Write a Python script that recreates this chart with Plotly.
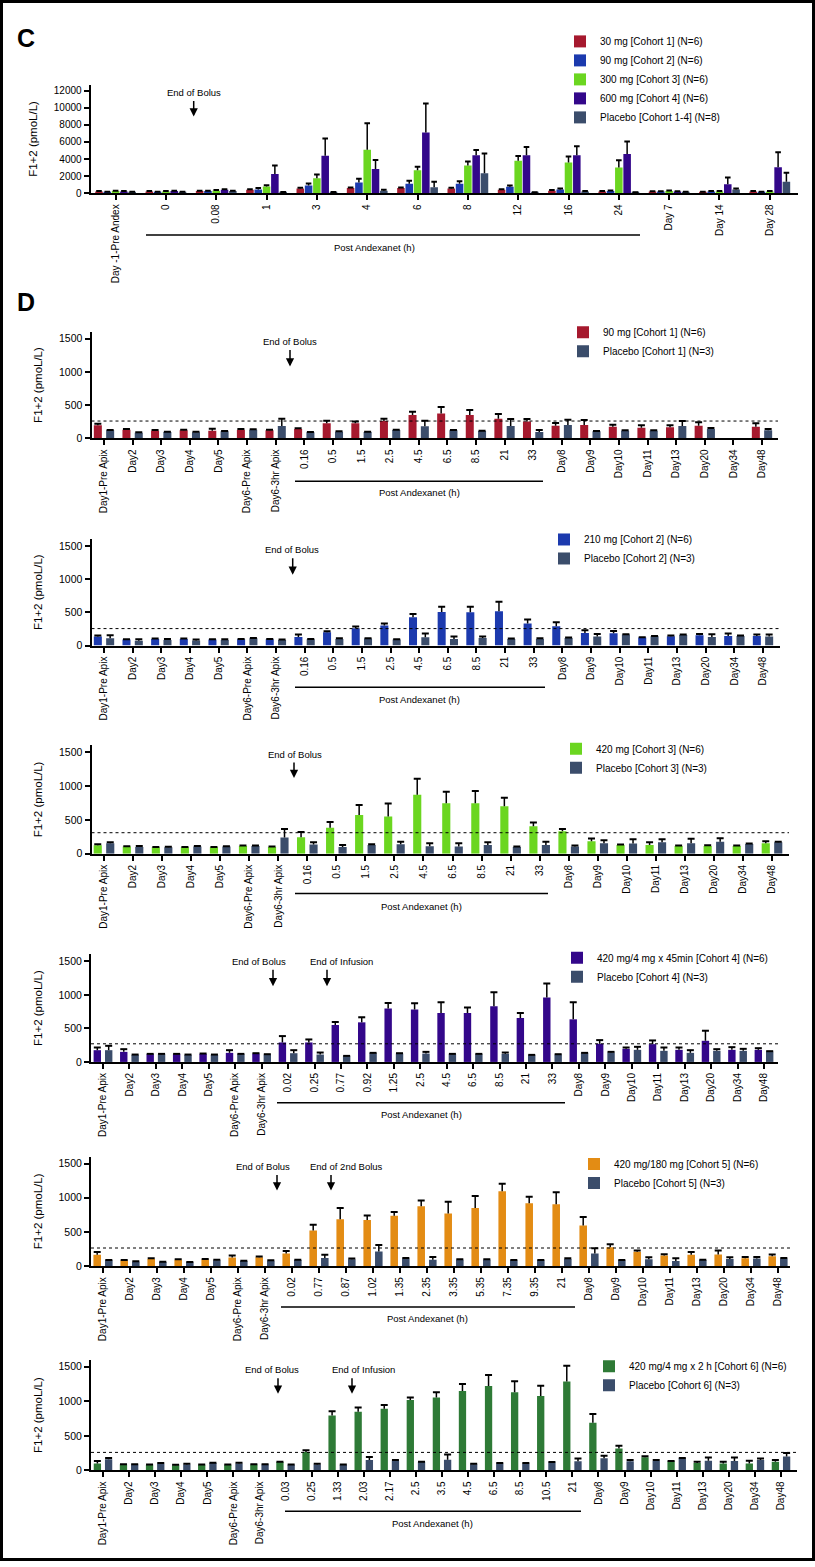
import plotly.graph_objects as go

# ---------------- DATA ----------------
# Panel C
c_cats = ["Day -1-Pre Andex", "0", "0.08", "1", "3", "4", "6", "8", "12", "16", "24", "Day 7", "Day 14", "Day 28"]
c_30mg = [200, 200, 250, 400, 550, 600, 600, 550, 400, 300, 200, 200, 150, 200]
c_30mg_err = [60, 50, 50, 60, 80, 80, 80, 100, 80, 80, 50, 40, 40, 50]
c_90mg = [150, 150, 250, 450, 900, 1250, 1100, 1100, 750, 450, 250, 200, 200, 150]
c_90mg_err = [40, 40, 50, 150, 250, 450, 350, 300, 150, 100, 60, 40, 50, 40]
c_300mg = [250, 200, 300, 800, 1750, 5100, 2700, 3250, 3800, 3600, 3000, 250, 200, 200]
c_300mg_err = [50, 50, 80, 150, 450, 3100, 400, 450, 550, 700, 850, 60, 50, 50]
c_600mg = [200, 250, 400, 2250, 4400, 2850, 7100, 4450, 4450, 4450, 4600, 200, 1050, 3050]
c_600mg_err = [50, 50, 80, 1000, 2000, 1050, 3400, 600, 950, 1050, 1450, 40, 800, 1750]
c_placebo = [150, 150, 250, 100, 100, 300, 700, 2350, 100, 200, 100, 150, 450, 1350]
c_placebo_err = [40, 40, 50, 40, 40, 100, 650, 2300, 30, 50, 30, 40, 100, 1050]

pre_cats = ["Day1-Pre Apix", "Day2", "Day3", "Day4", "Day5", "Day6-Pre Apix", "Day6-3hr Apix"]
post_days = ["Day8", "Day9", "Day10", "Day11", "Day13", "Day20", "Day34", "Day48"]

# post-andexanet sampling times (h)
d123_times = ["0.16", "0.5", "1.5", "2.5", "4.5", "6.5", "8.5", "21", "33"]
d4_times = ["0.02", "0.25", "0.77", "0.92", "1.25", "2.5", "4.5", "6.5", "8.5", "21", "33"]
d5_times = ["0.02", "0.77", "0.87", "1.02", "1.35", "2.35", "3.35", "5.35", "7.35", "9.35", "21"]
d6_times = ["0.03", "0.25", "1.33", "2.03", "2.17", "2.5", "3.5", "4.5", "6.5", "8.5", "10.5", "21"]

d1_active = [195, 130, 115, 120, 115, 130, 120, 140, 225, 225, 260, 350, 375, 350, 295, 255, 190, 200, 175, 160, 165, 190, None, 175]
d1_active_err = [25, 10, 10, 10, 30, 10, 10, 10, 40, 30, 35, 50, 95, 75, 70, 35, 40, 75, 30, 35, 30, 50, None, 50]
d1_placebo = [120, 85, 95, 90, 105, 130, 185, 90, 100, 95, 125, 180, 120, 110, 185, 95, 200, 105, 115, 115, 185, 140, None, 120]
d1_placebo_err = [5, 5, 5, 10, 5, 5, 110, 5, 5, 5, 5, 85, 5, 5, 105, 30, 80, 5, 5, 5, 75, 15, None, 20]

d2_active = [135, 90, 100, 100, 90, 95, 95, 130, 200, 260, 300, 425, 505, 500, 515, 330, 290, 190, 185, 120, 140, 155, 145, 145]
d2_active_err = [15, 5, 5, 5, 5, 5, 5, 35, 15, 25, 30, 50, 80, 85, 145, 60, 60, 40, 35, 5, 10, 20, 35, 20]
d2_placebo = [110, 70, 85, 75, 85, 110, 85, 95, 100, 105, 90, 125, 100, 115, 100, 100, 115, 135, 165, 140, 160, 130, 145, 135]
d2_placebo_err = [45, 25, 15, 15, 10, 5, 5, 5, 10, 5, 5, 55, 35, 20, 5, 10, 5, 40, 5, 5, 5, 40, 5, 30]

d3_active = [125, 105, 95, 95, 95, 115, 100, 245, 385, 570, 550, 870, 745, 745, 700, 405, 330, 185, 130, 130, 115, 115, 115, 155]
d3_active_err = [15, 5, 5, 5, 5, 5, 5, 75, 85, 150, 190, 235, 170, 180, 125, 55, 35, 40, 5, 40, 5, 10, 5, 30]
d3_placebo = [155, 100, 95, 105, 105, 115, 240, 135, 100, 130, 140, 110, 105, 130, 100, 130, 105, 155, 150, 170, 155, 175, 145, 170]
d3_placebo_err = [15, 15, 8, 10, 5, 5, 125, 35, 30, 10, 35, 45, 50, 40, 5, 45, 15, 45, 65, 45, 65, 55, 5, 5]

d4_active = [175, 150, 115, 115, 120, 135, 125, 290, 290, 550, 590, 795, 780, 730, 730, 830, 655, 960, 635, 270, 195, 265, 180, 315, 180, 180]
d4_active_err = [40, 40, 5, 5, 5, 40, 5, 95, 45, 45, 75, 85, 95, 160, 80, 210, 75, 210, 255, 55, 20, 55, 35, 150, 40, 25]
d4_placebo = [175, 105, 115, 105, 105, 115, 110, 130, 110, 85, 130, 125, 125, 115, 115, 120, 100, 110, 130, 140, 180, 165, 135, 165, 165, 155]
d4_placebo_err = [65, 5, 5, 5, 5, 5, 5, 45, 30, 5, 5, 5, 25, 5, 5, 20, 5, 5, 5, 10, 45, 50, 40, 25, 30, 5]

d5_active = [165, 85, 105, 95, 100, 125, 130, 185, 520, 685, 675, 735, 875, 770, 850, 1095, 920, 905, 595, 275, 210, 155, 165, 170, 115, 145]
d5_active_err = [40, 5, 10, 5, 5, 30, 10, 35, 85, 165, 65, 55, 85, 170, 175, 110, 95, 175, 125, 45, 20, 20, 40, 60, 20, 25]
d5_placebo = [85, 65, 60, 55, 85, 75, 80, 90, 120, 100, 215, 110, 95, 95, 95, 85, 85, 105, 185, 85, 100, 75, 90, 105, 110, 110]
d5_placebo_err = [5, 5, 5, 5, 10, 5, 5, 5, 45, 10, 95, 10, 40, 5, 5, 5, 5, 10, 75, 5, 30, 40, 5, 25, 25, 10]

d6_active = [100, 85, 80, 75, 80, 80, 85, 120, 265, 795, 850, 890, 1020, 1055, 1150, 1220, 1130, 1075, 1285, 690, 315, 190, 130, 105, 100, 100, 125]
d6_active_err = [35, 5, 5, 5, 5, 5, 5, 5, 25, 60, 60, 55, 35, 75, 100, 160, 160, 150, 230, 125, 40, 15, 5, 20, 25, 40, 25]
d6_placebo = [160, 85, 95, 85, 105, 100, 85, 80, 85, 80, 150, 140, 120, 155, 90, 100, 100, 115, 130, 175, 130, 135, 175, 140, 135, 150, 200]
d6_placebo_err = [20, 5, 10, 10, 5, 10, 5, 5, 10, 5, 45, 10, 5, 75, 5, 5, 5, 5, 40, 35, 20, 15, 5, 45, 50, 20, 50]

ref_limits = [260, 255, 310, 270, 265, 260]  # dotted reference lines (pmol/L)

# ---------------- STYLE / LAYOUT ----------------
W, H = 815, 1567
SANS = "Liberation Sans, Arial, sans-serif"
RED = "#a6192e"
BLUE = "#1c3aae"
LIME = "#6bd620"
PURPLE = "#33078a"
SLATE = "#3b4d6b"
ORANGE = "#e38c14"
DKGREEN = "#2e7a36"


def fx(px):
    return px / W


def fy(py):
    return 1 - py / H


fig = go.Figure()

# geometry: (axis start px, axis end px, first tick px, last tick px, baseline px, ref tick px, ref tick value, top px)
panels = [
    dict(cats=c_cats, geo=(90.6, 798, 115.6, 769.8, 194, 91, 12000, 85), yt=list(range(0, 12001, 2000))),
    dict(cats=pre_cats + d123_times + post_days, geo=(91.5, 778, 104, 762, 440, 340, 1500, 333)),
    dict(cats=pre_cats + d123_times + post_days, geo=(91.5, 780, 104, 763, 648, 548, 1500, 541)),
    dict(cats=pre_cats + d123_times + post_days, geo=(91.5, 789, 104, 772, 857, 755, 1500, 748)),
    dict(cats=pre_cats + d4_times + post_days, geo=(91.0, 778, 103, 764, 1066, 965, 1500, 958)),
    dict(cats=pre_cats + d5_times + post_days, geo=(91.0, 790, 103, 778, 1271, 1168, 1500, 1161)),
    dict(cats=pre_cats + d6_times + post_days, geo=(91.0, 797, 103, 781, 1476, 1372, 1500, 1365)),
]

series = [
    [("30 mg [Cohort 1] (N=6)", RED, c_30mg, c_30mg_err),
     ("90 mg [Cohort 2] (N=6)", BLUE, c_90mg, c_90mg_err),
     ("300 mg [Cohort 3] (N=6)", LIME, c_300mg, c_300mg_err),
     ("600 mg [Cohort 4] (N=6)", PURPLE, c_600mg, c_600mg_err),
     ("Placebo [Cohort 1-4] (N=8)", SLATE, c_placebo, c_placebo_err)],
    [("90 mg [Cohort 1] (N=6)", RED, d1_active, d1_active_err),
     ("Placebo [Cohort 1] (N=3)", SLATE, d1_placebo, d1_placebo_err)],
    [("210 mg [Cohort 2] (N=6)", BLUE, d2_active, d2_active_err),
     ("Placebo [Cohort 2] (N=3)", SLATE, d2_placebo, d2_placebo_err)],
    [("420 mg [Cohort 3] (N=6)", LIME, d3_active, d3_active_err),
     ("Placebo [Cohort 3] (N=3)", SLATE, d3_placebo, d3_placebo_err)],
    [("420 mg/4 mg x 45min [Cohort 4] (N=6)", PURPLE, d4_active, d4_active_err),
     ("Placebo [Cohort 4] (N=3)", SLATE, d4_placebo, d4_placebo_err)],
    [("420 mg/180 mg [Cohort 5] (N=6)", ORANGE, d5_active, d5_active_err),
     ("Placebo [Cohort 5] (N=3)", SLATE, d5_placebo, d5_placebo_err)],
    [("420 mg/4 mg x 2 h [Cohort 6] (N=6)", DKGREEN, d6_active, d6_active_err),
     ("Placebo [Cohort 6] (N=3)", SLATE, d6_placebo, d6_placebo_err)],
]

# legend placement (left px, top px)
legend_pos = [(560, 27), (563, 319), (544, 527), (556, 737), (557, 947), (574, 1154), (589, 1357)]

layout = dict(
    width=W, height=H, margin=dict(l=0, r=0, t=0, b=0),
    paper_bgcolor="white", plot_bgcolor="white",
    barmode="overlay", hovermode=False, showlegend=True,
    font=dict(family=SANS, color="black"),
)

shapes = []
annotations = []

for k, (p, ser) in enumerate(zip(panels, series)):
    idx = "" if k == 0 else str(k + 1)
    xa, ya = "x" + idx, "y" + idx
    lg = "legend" + idx
    cats = p["cats"]
    n = len(cats)
    start, end, first, last, base, tpx, tval, top = p["geo"]
    sp = (last - first) / (n - 1)
    xr = [-(first - start) / sp, (n - 1) + (end - last) / sp]
    ymax = tval * (base - top) / (base - tpx)
    ytv = p.get("yt", [0, 500, 1000, 1500])

    layout["xaxis" + idx] = dict(
        domain=[fx(start), fx(end)], range=xr, anchor=ya,
        tickmode="array", tickvals=list(range(n)), ticktext=cats, tickangle=-90,
        ticks="outside", ticklen=5, tickwidth=1.5, tickcolor="black",
        showline=True, linewidth=2.2, linecolor="black",
        showgrid=False, zeroline=False, fixedrange=True,
        tickfont=dict(family=SANS, size=10, color="black"),
    )
    layout["yaxis" + idx] = dict(
        domain=[fy(base), fy(top)], range=[0, ymax], anchor=xa,
        tickmode="array", tickvals=ytv, tickformat="d",
        ticks="outside", ticklen=5, tickwidth=1.5,
        tickcolor="black", showline=True, linewidth=2, linecolor="black",
        showgrid=False, zeroline=False, fixedrange=True,
        tickfont=dict(family=SANS, size=10.5 if k else 10, color="black"),
        title=dict(text="F1+2 (pmoL/L)", font=dict(family=SANS, size=11.5, color="black"),
                   standoff=14),
    )
    lx, ly = legend_pos[k]
    layout[lg] = dict(
        x=fx(lx), y=fy(ly), xanchor="left", yanchor="top", bgcolor="rgba(0,0,0,0)",
        font=dict(family=SANS, size=10, color="black"), traceorder="normal",
        itemclick=False, itemdoubleclick=False, tracegroupgap=0,
    )

    m = len(ser)
    if m == 5:
        slot, bw, cap = 0.165, 0.15, 4
    else:
        slot, bw, cap = 0.43, 0.28, 5
    for j, (name, color, vals, errs) in enumerate(ser):
        off = (j - (m - 1) / 2) * slot
        xs = [i + off for i in range(n)]
        ev = [e if e is not None else 0 for e in errs]
        fig.add_trace(go.Bar(
            x=xs, y=vals, width=bw, name=name, xaxis=xa, yaxis=ya, legend=lg,
            marker=dict(color=color, line=dict(width=0)),
            error_y=dict(type="data", symmetric=False, array=ev, arrayminus=[0] * n,
                         width=0, thickness=1.5, color="black"),
        ))
        tops = [(v + e) if (v is not None and e is not None) else None for v, e in zip(vals, errs)]
        fig.add_trace(go.Scatter(
            x=xs, y=tops, mode="markers", xaxis=xa, yaxis=ya, showlegend=False,
            marker=dict(symbol="line-ew", size=cap, color="black",
                        line=dict(width=2, color="black")),
        ))

    # dotted reference line on D panels
    if k > 0:
        shapes.append(dict(type="line", xref=xa + " domain", x0=0, x1=1, yref=ya,
                           y0=ref_limits[k - 1], y1=ref_limits[k - 1],
                           line=dict(color="black", width=1, dash="dot")))


def label(text, xpx, ypx, size=9.5, bold=False):
    return dict(text=f"<b>{text}</b>" if bold else text, xref="paper", yref="paper",
                x=fx(xpx), y=fy(ypx), xanchor="center", yanchor="middle", showarrow=False,
                font=dict(family=SANS, size=size, color="black"))


# ----- "Post Andexanet (h)" brackets: (x0 px, x1 px, line y px, text y px, text x px)
post_lines = [(146, 640, 236, 248, 374), (295, 543, 483, 494, 419), (295, 545, 690, 702, 419),
              (295, 548, 897, 910, 421), (277, 565, 1107, 1119, 421), (281, 575, 1312, 1324, 427),
              (285, 581, 1517, 1529, 432)]
for x0, x1, yl, yt, xt in post_lines:
    shapes.append(dict(type="line", xref="paper", yref="paper", x0=fx(x0), x1=fx(x1),
                       y0=fy(yl), y1=fy(yl), line=dict(color="black", width=1.5)))
    annotations.append(label("Post Andexanet (h)", xt, yt))

# ----- event markers: (label, text x px, text y px, arrow x px, arrow head y px)
events = [("End of Bolus", 193.5, 93, 193.7, 117),
          ("End of Bolus", 290, 343, 290, 368),
          ("End of Bolus", 292, 552, 292.7, 577),
          ("End of Bolus", 294.5, 757, 294, 781),
          ("End of Bolus", 259, 965, 273, 990), ("End of Infusion", 341, 965, 327, 990),
          ("End of Bolus", 263, 1171, 277, 1195), ("End of 2nd Bolus", 346, 1171, 331, 1195),
          ("End of Bolus", 272, 1375, 278, 1399), ("End of Infusion", 363, 1375, 352, 1399)]
for text, tx, ty, axp, yh in events:
    annotations.append(label(text, tx, ty))
    annotations.append(dict(text="", xref="paper", yref="paper", x=fx(axp), y=fy(yh),
                            ax=0, ay=-(yh - ty - 7), showarrow=True, arrowhead=2, arrowsize=1.1,
                            arrowwidth=1.5, arrowcolor="black", standoff=0))

# panel letters
annotations.append(label("C", 26, 38, size=25, bold=True))
annotations.append(label("D", 26, 303, size=25, bold=True))

# outer frame
shapes.append(dict(type="rect", xref="paper", yref="paper", x0=fx(1.5), x1=fx(W - 1.5), y0=fy(H - 1.5),
                   y1=fy(1.5), line=dict(color="black", width=3)))

layout["shapes"] = shapes
layout["annotations"] = annotations
fig.update_layout(**layout)

fig.write_html("out.html", config={"displayModeBar": False},
               post_script="document.body.style.margin='0';document.body.style.padding='0';")
